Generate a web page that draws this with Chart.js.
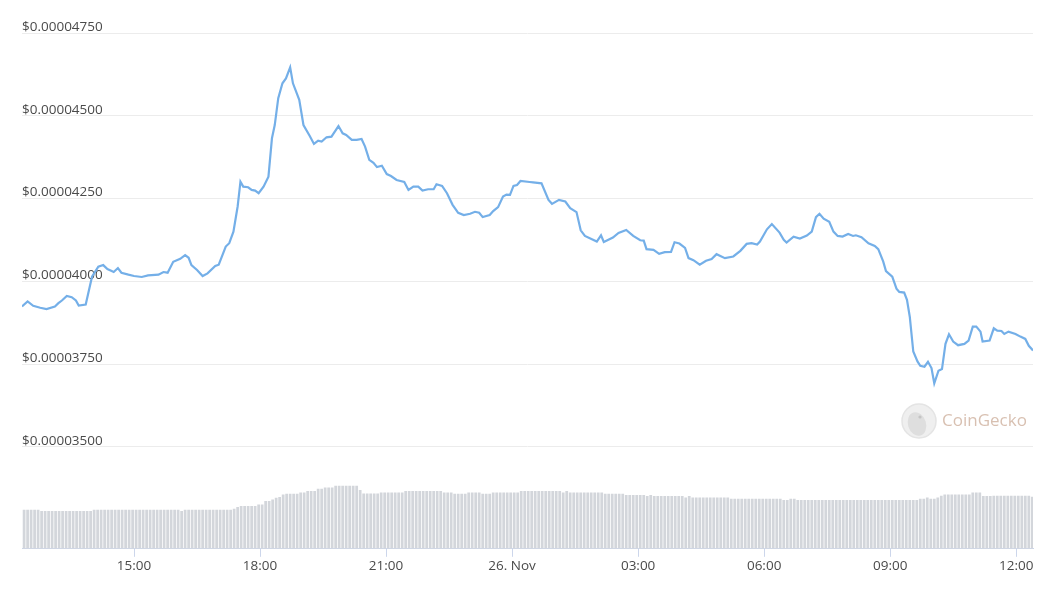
<!DOCTYPE html>
<html>
<head>
<meta charset="utf-8">
<script src="https://cdn.jsdelivr.net/npm/chart.js@4.4.1/dist/chart.umd.min.js"></script>
<style>
  html, body { margin: 0; padding: 0; background: #fff; }
</style>
</head>
<body>
<canvas id="priceChart" width="1059" height="595"></canvas>
<script>
/* eslint-disable no-undef */
// minutos desde 25 Nov 00:00 de cada punto de precio
const priceTimes = [
  740, 748, 756, 766, 775, 787, 792, 797, 804, 811,
  817, 821, 831, 840, 849, 856, 862, 871, 877, 882,
  892, 900, 911, 920, 935, 942, 948, 956, 966, 973,
  978, 982, 990, 998, 1005, 1016, 1021, 1031, 1036, 1042,
  1048, 1052, 1056, 1063, 1068, 1073, 1078, 1085, 1092, 1097,
  1101, 1106, 1112, 1117, 1123, 1127, 1136, 1142, 1151, 1157,
  1163, 1168, 1175, 1182, 1192, 1198, 1203, 1211, 1218, 1225,
  1230, 1236, 1242, 1247, 1254, 1261, 1267, 1275, 1286, 1292,
  1299, 1306, 1312, 1320, 1328, 1332, 1340, 1347, 1355, 1363,
  1371, 1380, 1387, 1393, 1398, 1408, 1413, 1420, 1427, 1432,
  1437, 1442, 1447, 1452, 1465, 1470, 1482, 1492, 1497, 1507,
  1516, 1523, 1532, 1538, 1544, 1561, 1567, 1571, 1584, 1592,
  1603, 1613, 1623, 1628, 1632, 1642, 1650, 1658, 1667, 1672,
  1679, 1687, 1692, 1699, 1708, 1717, 1725, 1732, 1744, 1756,
  1766, 1775, 1782, 1790, 1794, 1804, 1811, 1822, 1828, 1832,
  1842, 1851, 1861, 1868, 1874, 1879, 1885, 1893, 1899, 1905,
  1912, 1920, 1927, 1931, 1939, 1949, 1958, 1963, 1970, 1974,
  1983, 1989, 1993, 2000, 2004, 2008, 2013, 2019, 2023, 2029,
  2034, 2039, 2043, 2049, 2054, 2059, 2064, 2070, 2077, 2086,
  2092, 2098, 2103, 2109, 2112, 2122, 2128, 2133, 2139, 2143,
  2149, 2159, 2166, 2173, 2178, 2184
]
// precio en USD
const prices = [
  3.924e-5, 3.939e-5, 3.926e-5, 3.920e-5, 3.916e-5, 3.924e-5, 3.934e-5, 3.942e-5, 3.956e-5, 3.952e-5,
  3.942e-5, 3.927e-5, 3.930e-5, 4.014e-5, 4.044e-5, 4.049e-5, 4.037e-5, 4.028e-5, 4.040e-5, 4.026e-5,
  4.020e-5, 4.016e-5, 4.013e-5, 4.018e-5, 4.020e-5, 4.028e-5, 4.026e-5, 4.059e-5, 4.068e-5, 4.079e-5,
  4.071e-5, 4.049e-5, 4.034e-5, 4.016e-5, 4.024e-5, 4.046e-5, 4.050e-5, 4.105e-5, 4.115e-5, 4.150e-5,
  4.226e-5, 4.301e-5, 4.286e-5, 4.284e-5, 4.276e-5, 4.274e-5, 4.266e-5, 4.286e-5, 4.316e-5, 4.432e-5,
  4.472e-5, 4.553e-5, 4.598e-5, 4.613e-5, 4.646e-5, 4.598e-5, 4.548e-5, 4.472e-5, 4.439e-5, 4.415e-5,
  4.425e-5, 4.422e-5, 4.435e-5, 4.437e-5, 4.469e-5, 4.447e-5, 4.442e-5, 4.427e-5, 4.427e-5, 4.430e-5,
  4.407e-5, 4.367e-5, 4.358e-5, 4.345e-5, 4.349e-5, 4.324e-5, 4.318e-5, 4.306e-5, 4.300e-5, 4.276e-5,
  4.286e-5, 4.286e-5, 4.274e-5, 4.278e-5, 4.278e-5, 4.293e-5, 4.288e-5, 4.266e-5, 4.231e-5, 4.207e-5,
  4.200e-5, 4.204e-5, 4.210e-5, 4.207e-5, 4.194e-5, 4.200e-5, 4.212e-5, 4.224e-5, 4.256e-5, 4.262e-5,
  4.261e-5, 4.288e-5, 4.291e-5, 4.303e-5, 4.300e-5, 4.299e-5, 4.296e-5, 4.246e-5, 4.234e-5, 4.246e-5,
  4.241e-5, 4.221e-5, 4.209e-5, 4.154e-5, 4.137e-5, 4.120e-5, 4.139e-5, 4.119e-5, 4.132e-5, 4.146e-5,
  4.155e-5, 4.137e-5, 4.124e-5, 4.123e-5, 4.097e-5, 4.095e-5, 4.083e-5, 4.088e-5, 4.089e-5, 4.118e-5,
  4.114e-5, 4.101e-5, 4.070e-5, 4.064e-5, 4.050e-5, 4.062e-5, 4.067e-5, 4.082e-5, 4.070e-5, 4.075e-5,
  4.092e-5, 4.113e-5, 4.115e-5, 4.111e-5, 4.120e-5, 4.157e-5, 4.173e-5, 4.147e-5, 4.125e-5, 4.117e-5,
  4.135e-5, 4.129e-5, 4.138e-5, 4.150e-5, 4.194e-5, 4.204e-5, 4.189e-5, 4.180e-5, 4.150e-5, 4.137e-5,
  4.135e-5, 4.143e-5, 4.137e-5, 4.139e-5, 4.133e-5, 4.115e-5, 4.107e-5, 4.097e-5, 4.060e-5, 4.031e-5,
  4.014e-5, 3.978e-5, 3.968e-5, 3.966e-5, 3.944e-5, 3.893e-5, 3.788e-5, 3.758e-5, 3.745e-5, 3.742e-5,
  3.757e-5, 3.738e-5, 3.692e-5, 3.730e-5, 3.735e-5, 3.811e-5, 3.840e-5, 3.818e-5, 3.807e-5, 3.811e-5,
  3.821e-5, 3.863e-5, 3.863e-5, 3.848e-5, 3.818e-5, 3.821e-5, 3.858e-5, 3.851e-5, 3.850e-5, 3.841e-5,
  3.848e-5, 3.841e-5, 3.833e-5, 3.826e-5, 3.805e-5, 3.791e-5
]
// volumen cada 5 minutos (unidades relativas)
const volStart = 743
const volStep = 5
const volumes = [
  390, 390, 390, 390, 390, 377, 377, 377, 377, 377, 377, 377, 377, 377, 377, 377, 377, 377, 377, 377,
  390, 390, 390, 390, 390, 390, 390, 390, 390, 390, 390, 390, 390, 390, 390, 390, 390, 390, 390, 390,
  390, 390, 390, 390, 390, 377,
  390, 390, 390, 390, 390, 390, 390, 390, 390, 390, 390, 390, 390, 390,
  400, 417, 427, 427, 427, 427, 427, 443, 443, 477, 477, 493, 510, 517, 543,
  550, 550, 550, 550, 563, 563, 577, 577, 577, 600, 600, 613, 613, 613, 630, 630, 630, 630, 630, 630, 630,
  587, 553, 553, 553, 553, 553, 563, 563, 563, 563, 563, 563, 563,
  577, 577, 577, 577, 577, 577, 577, 577, 577, 577, 577,
  563, 563, 563, 550, 550, 550, 550, 563, 563, 563, 563, 550, 550, 550,
  563, 563, 563, 563, 563, 563, 563, 563,
  577, 577, 577, 577, 577, 577, 577, 577, 577, 577, 577, 577, 563, 577,
  563, 563, 563, 563, 563, 563, 563, 563, 563, 563,
  550, 550, 550, 550, 550, 550, 537, 537, 537, 537, 537, 537, 527, 537,
  527, 527, 527, 527, 527, 527, 527, 527, 527, 513, 527,
  513, 513, 513, 513, 513, 513, 513, 513, 513, 513, 513,
  500, 500, 500, 500, 500, 500, 500, 500, 500, 500, 500, 500, 500, 500, 500,
  487, 487, 500, 500,
  487, 487, 487, 487, 487, 487, 487, 487, 487, 487, 487, 487, 487, 487, 487, 487, 487, 487,
  487, 487, 487, 487, 487, 487, 487, 487, 487, 487, 487, 487, 487, 487, 487, 487, 487,
  500, 500, 513, 500, 500, 513, 530, 543, 543, 543, 543, 543, 543, 543, 543,
  563, 563, 563, 527, 527, 527,
  530, 530, 530, 530, 530, 530, 530, 530, 530, 530, 530, 520
]
// marcas del eje x
const tickTimes = [900, 1080, 1260, 1440, 1620, 1800, 1980, 2160]
const tickLabels = ['15:00', '18:00', '21:00', '26. Nov', '03:00', '06:00', '09:00', '12:00']
const priceTicks = [3.5e-5, 3.75e-5, 4.0e-5, 4.25e-5, 4.5e-5, 4.75e-5]

const textColor = '#4a4a4a'
Chart.defaults.font.family = "'Open Sans', sans-serif"

// marca de agua de CoinGecko
const watermark = {
  id: 'watermark',
  beforeDatasetsDraw (chart) {
    const c = chart.ctx
    const cx = chart.chartArea.right - 114
    const cy = 421
    c.save()
    c.beginPath()
    c.arc(cx, cy, 17, 0, Math.PI * 2)
    c.fillStyle = '#efefef'
    c.fill()
    c.lineWidth = 1.5
    c.strokeStyle = '#e4e4e4'
    c.stroke()
    // cabeza del gecko
    c.beginPath()
    c.ellipse(cx - 2, cy + 3, 9, 12, -0.3, 0, Math.PI * 2)
    c.fillStyle = '#dedede'
    c.fill()
    c.beginPath()
    c.arc(cx + 1, cy - 4, 1.6, 0, Math.PI * 2)
    c.fillStyle = '#c4c4c4'
    c.fill()
    c.font = "17px 'Open Sans', sans-serif"
    c.fillStyle = 'rgba(190, 150, 125, 0.6)'
    c.textBaseline = 'middle'
    c.textAlign = 'left'
    c.fillText('CoinGecko', cx + 23, cy)
    c.restore()
  }
}

const ctx = document.getElementById('priceChart').getContext('2d')
const priceData = priceTimes.map((t, i) => ({ x: t, y: prices[i] }))
const volumeData = volumes.map((v, i) => ({ x: volStart + i * volStep, y: v }))

new Chart(ctx, {
  type: 'line',
  data: {
    datasets: [
      {
        type: 'line',
        data: priceData,
        yAxisID: 'y',
        borderColor: '#74afe8',
        borderWidth: 2.2,
        pointRadius: 0,
        tension: 0,
        order: 0
      },
      {
        type: 'bar',
        data: volumeData,
        yAxisID: 'vol',
        backgroundColor: '#d3d6db',
        categoryPercentage: 1,
        barPercentage: 0.78,
        order: 1
      }
    ]
  },
  options: {
    responsive: false,
    animation: false,
    layout: { padding: { left: 22, right: 26, top: 33, bottom: 20 } },
    plugins: { legend: { display: false }, tooltip: { enabled: false } },
    scales: {
      x: {
        type: 'linear',
        min: 740,
        max: 2184,
        offset: false,
        afterBuildTicks: (scale) => { scale.ticks = tickTimes.map(v => ({ value: v })) },
        ticks: {
          callback: (value, index) => tickLabels[index],
          color: textColor,
          font: { size: 13.5 },
          padding: 1,
          maxRotation: 0,
          autoSkip: false
        },
        grid: { drawOnChartArea: false, offset: false, tickLength: 8, color: '#ccd6eb' },
        border: { color: '#ccd6eb' }
      },
      y: {
        position: 'left',
        min: 3.19203e-5,
        max: 4.75e-5,
        afterBuildTicks: (scale) => { scale.ticks = priceTicks.map(v => ({ value: v })) },
        ticks: {
          mirror: true,
          padding: 0,
          labelOffset: -6,
          color: textColor,
          font: { size: 13.5 },
          callback: (value) => '$' + value.toFixed(8)
        },
        grid: { color: '#ececec', drawTicks: false },
        border: { display: false }
      },
      vol: { display: false, min: 0, max: 5160 }
    }
  },
  plugins: [watermark]
})
</script>
</body>
</html>
